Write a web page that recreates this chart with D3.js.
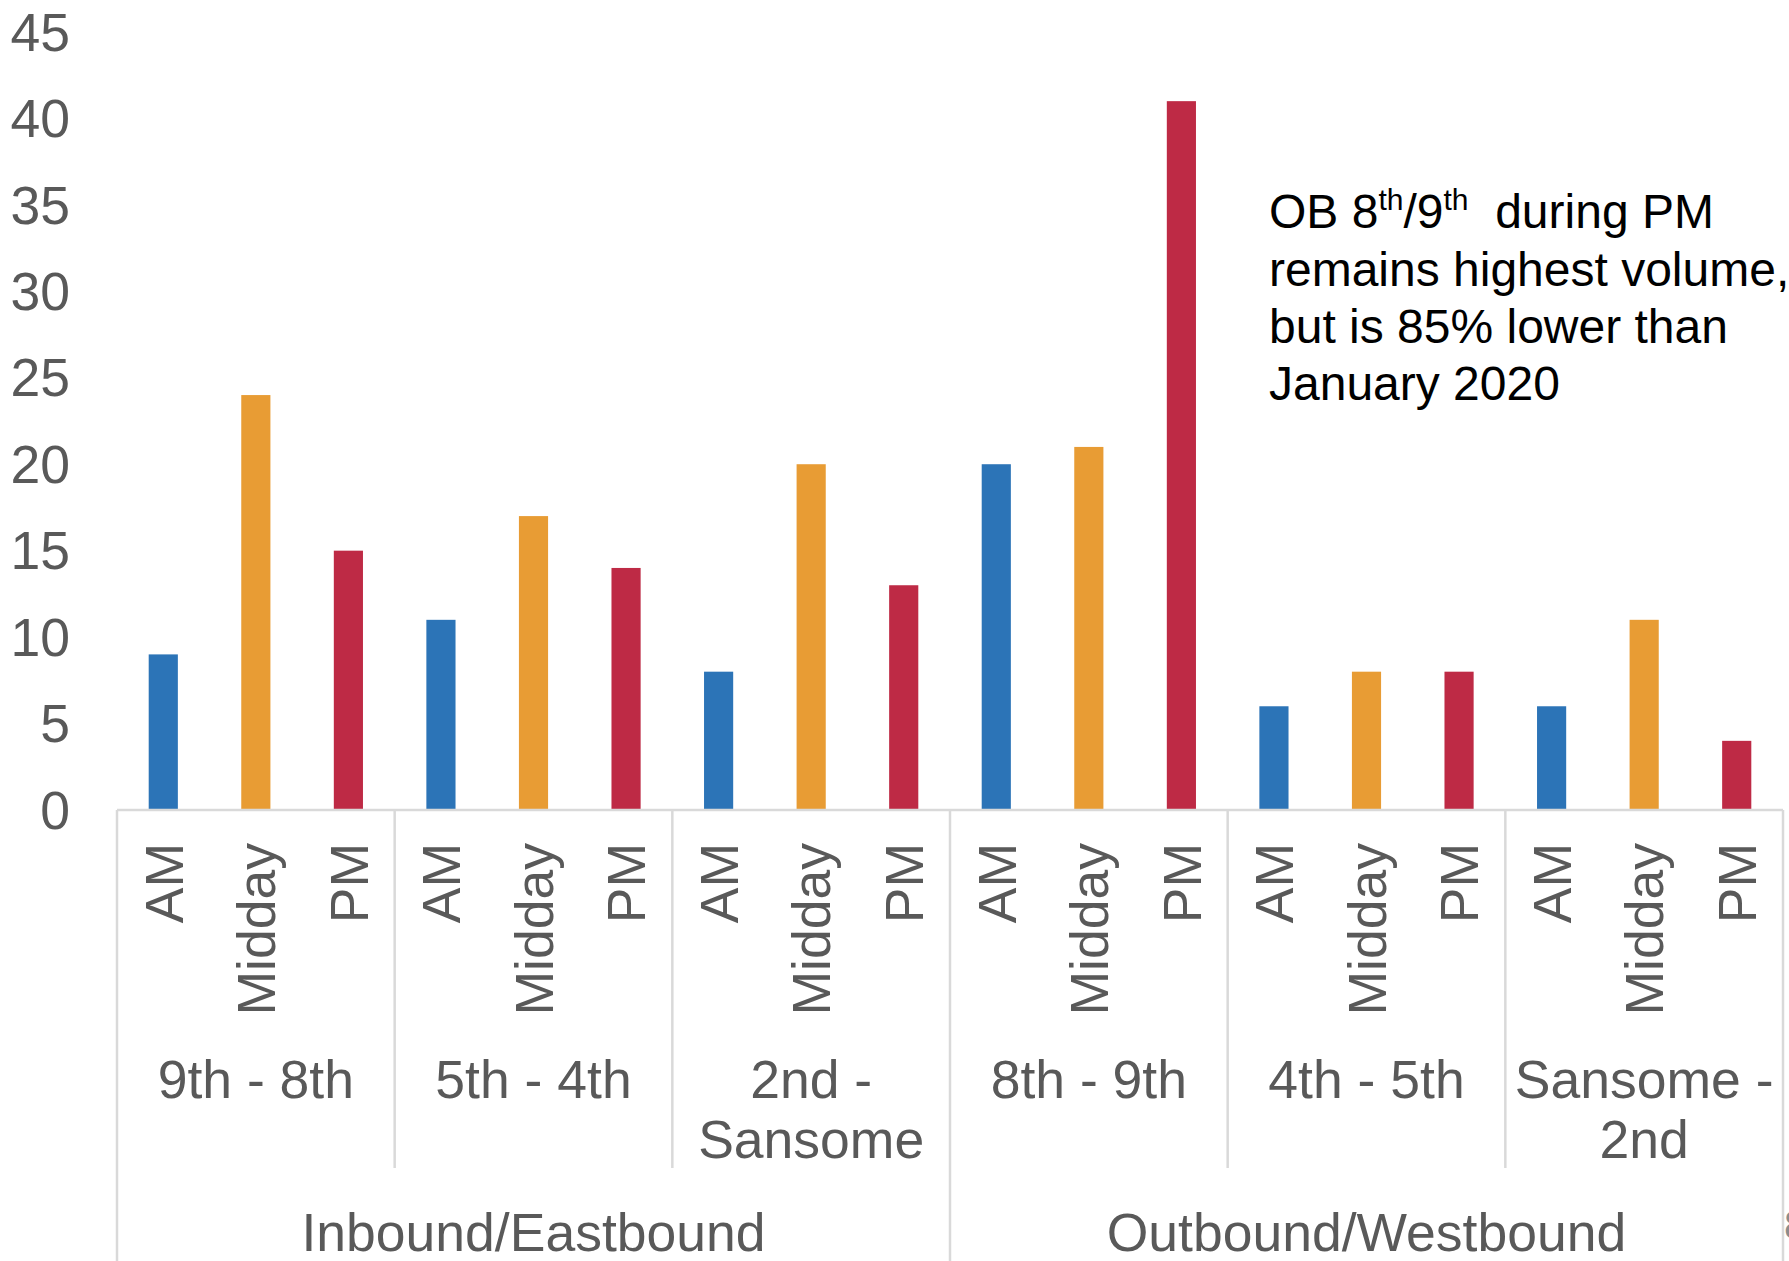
<!DOCTYPE html>
<html>
<head>
<meta charset="utf-8">
<script src="https://cdn.jsdelivr.net/npm/d3@7"></script>
<style>
  html, body { margin: 0; padding: 0; background: #fff; }
  svg { display: block; font-family: "Liberation Sans", Arial, sans-serif; }
</style>
</head>
<body>
<svg id="chart" width="1789" height="1261"></svg>
<script>
// ---- data ----
const directions = ["Inbound/Eastbound", "Outbound/Westbound"];
const segments = [
  ["9th - 8th"], ["5th - 4th"], ["2nd -", "Sansome"],
  ["8th - 9th"], ["4th - 5th"], ["Sansome -", "2nd"]
];
const segmentDirection = [0, 0, 0, 1, 1, 1];
const periods = ["AM", "Midday", "PM"];
const amValues     = [9, 11, 8, 20, 6, 6];
const middayValues = [24, 17, 20, 21, 8, 11];
const pmValues     = [15, 14, 13, 41, 8, 4];
const yTicks = [0, 5, 10, 15, 20, 25, 30, 35, 40, 45];
const colors = ["#2C74B7", "#E89C34", "#BE2A45"];

// ---- layout ----
const W = 1789, H = 1261;
const left = 117, right = 1783, baseY = 810, topY = 32;
const svg = d3.select("#chart");
const textColor = "#595959";
const lineColor = "#D9D9D9";
const labelSize = "53.5px";

const series = [amValues, middayValues, pmValues];
const rows = [];
segments.forEach((s, gi) => {
  periods.forEach((p, pi) => {
    rows.push({ key: gi + "-" + p, group: gi, period: p, pi: pi, value: series[pi][gi] });
  });
});

const x = d3.scaleBand().domain(rows.map(d => d.key)).range([left, right])
  .paddingInner(0.685).paddingOuter(0.3425);
const step = x.step();
const y = d3.scaleLinear().domain([0, 45]).range([baseY, topY]);

// y axis labels
const yAxis = d3.axisLeft(y).tickValues(yTicks).tickSize(0).tickPadding(0);
const yg = svg.append("g").attr("transform", "translate(70,0)").call(yAxis);
yg.select(".domain").remove();
yg.selectAll("text")
  .attr("fill", textColor)
  .style("font-size", labelSize)
  .style("font-family", "'Liberation Sans', Arial, sans-serif")
  .attr("dy", "0.34em");

// bars
svg.append("g").selectAll("rect").data(rows).join("rect")
  .attr("x", d => x(d.key))
  .attr("width", x.bandwidth())
  .attr("y", d => y(d.value))
  .attr("height", d => y(0) - y(d.value))
  .attr("fill", d => colors[d.pi]);

// baseline
svg.append("line").attr("x1", left).attr("x2", right).attr("y1", baseY).attr("y2", baseY)
  .attr("stroke", lineColor).attr("stroke-width", 2.5);

// dividers
const groupStep = step * 3;
const divs = [];
for (let i = 0; i <= segments.length; i++) {
  const full = (i === 0 || i === 3 || i === 6);
  divs.push({ x: left + i * groupStep, full: full });
}
svg.append("g").selectAll("line").data(divs).join("line")
  .attr("x1", d => Math.min(d.x, right)).attr("x2", d => Math.min(d.x, right))
  .attr("y1", baseY)
  .attr("y2", d => d.full ? H : 1168)
  .attr("stroke", lineColor).attr("stroke-width", 2.5);

// period labels (rotated)
svg.append("g").selectAll("text").data(rows).join("text")
  .attr("transform", d => `translate(${x(d.key) + x.bandwidth() / 2},843) rotate(-90)`)
  .attr("text-anchor", "end")
  .attr("dy", "0.36em")
  .attr("fill", textColor)
  .style("font-size", labelSize)
  .text(d => d.period);

// segment labels
segments.forEach((lines, gi) => {
  const cx = left + (gi + 0.5) * groupStep;
  const t = svg.append("text").attr("text-anchor", "middle").attr("fill", textColor)
    .style("font-size", labelSize);
  lines.forEach((ln, li) => {
    t.append("tspan").attr("x", cx).attr("y", 1098 + li * 60).text(ln);
  });
});

// direction labels
directions.forEach((dname, di) => {
  const idx = segmentDirection.map((v, i) => v === di ? i : -1).filter(i => i >= 0);
  const x0 = left + idx[0] * groupStep, x1 = left + (idx[idx.length - 1] + 1) * groupStep;
  svg.append("text").attr("x", (x0 + x1) / 2).attr("y", 1251)
    .attr("text-anchor", "middle").attr("fill", textColor)
    .style("font-size", labelSize).text(dname);
});

// annotation
const ann = svg.append("text").attr("fill", "#000").style("font-size", "48px");
const annX = 1269;
const l1 = ann.append("tspan").attr("x", annX).attr("y", 228);
l1.append("tspan").text("OB 8");
l1.append("tspan").attr("dy", -18).style("font-size", "30px").text("th");
l1.append("tspan").attr("dy", 18).text("/9");
l1.append("tspan").attr("dy", -18).style("font-size", "30px").text("th");
l1.append("tspan").attr("dy", 18).attr("xml:space", "preserve").text("\u00A0 during PM");
ann.append("tspan").attr("x", annX).attr("y", 286).text("remains highest volume,");
ann.append("tspan").attr("x", annX).attr("y", 343).text("but is 85% lower than");
ann.append("tspan").attr("x", annX).attr("y", 400).text("January 2020");

// cropped page number (cut off at the right edge, as in the reference)
svg.append("text").attr("x", 1784).attr("y", 1239).attr("fill", "#8C8C8C")
  .style("font-size", "40px").text("8");
</script>
</body>
</html>
